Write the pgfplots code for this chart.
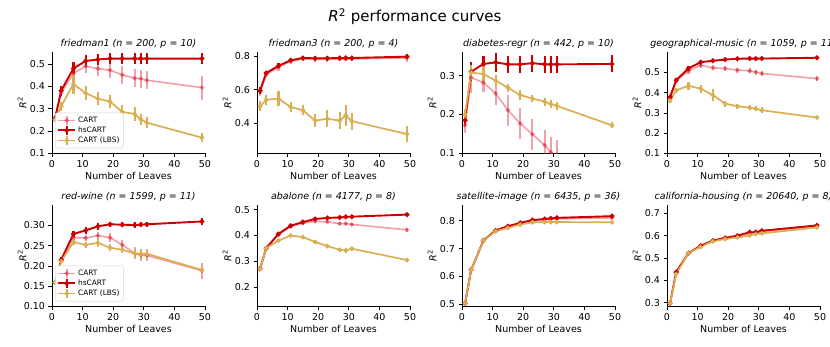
\documentclass[border=0pt]{standalone}
\usepackage{fontspec}
\setmainfont{DejaVu Sans}
\usepackage{pgfplots}
\pgfplotsset{compat=1.18}
\usepackage{pgfplotstable}

\definecolor{hsred}{RGB}{204,0,0}
\definecolor{cartred}{RGB}{226,45,60}
\definecolor{lbsgold}{RGB}{218,174,82}

\newcommand\tk{\fontsize{9.5}{11}\selectfont}
\newcommand\rsq{{\itshape R}\textsuperscript{2}}

% columns: leaves, CART, err, hsCART, err, CART (LBS), err
\pgfplotstableread{
x c ce h he l le
1 0.257 0.010 0.257 0.010 0.250 0.010
3 0.370 0.020 0.380 0.022 0.310 0.020
7 0.458 0.030 0.480 0.030 0.410 0.045
11 0.490 0.030 0.513 0.026 0.369 0.030
15 0.479 0.034 0.520 0.026 0.345 0.030
19 0.472 0.035 0.524 0.026 0.331 0.030
23 0.451 0.040 0.524 0.026 0.285 0.030
27 0.436 0.040 0.524 0.026 0.276 0.030
29 0.434 0.040 0.524 0.026 0.252 0.025
31 0.427 0.040 0.524 0.026 0.237 0.025
49 0.394 0.054 0.524 0.026 0.170 0.020
}\friedmanA
\pgfplotstableread{
x c ce h he l le
1 0.585 0.020 0.594 0.020 0.500 0.030
3 0.690 0.015 0.700 0.015 0.540 0.030
7 0.735 0.020 0.743 0.015 0.547 0.045
11 0.770 0.015 0.776 0.012 0.497 0.030
15 0.785 0.015 0.790 0.012 0.477 0.030
19 0.782 0.015 0.788 0.012 0.416 0.040
23 0.782 0.015 0.788 0.012 0.426 0.050
27 0.784 0.015 0.790 0.012 0.416 0.050
29 0.784 0.015 0.790 0.012 0.446 0.060
31 0.784 0.015 0.790 0.012 0.412 0.050
49 0.790 0.025 0.798 0.015 0.335 0.050
}\friedmanC
\pgfplotstableread{
x c ce h he l le
1 0.172 0.020 0.185 0.015 0.200 0.015
3 0.295 0.040 0.310 0.025 0.308 0.020
7 0.282 0.025 0.330 0.020 0.304 0.020
11 0.254 0.030 0.334 0.025 0.287 0.015
15 0.211 0.040 0.329 0.022 0.269 0.010
19 0.177 0.040 0.329 0.022 0.250 0.012
23 0.149 0.040 0.332 0.022 0.241 0.010
27 0.121 0.040 0.329 0.022 0.233 0.010
29 0.103 0.040 0.329 0.022 0.227 0.010
31 0.095 0.040 0.329 0.022 0.222 0.010
49 -0.050 0.050 0.330 0.022 0.172 0.008
}\diabetes
\pgfplotstableread{
x c ce h he l le
1 0.371 0.010 0.379 0.010 0.360 0.010
3 0.459 0.010 0.462 0.010 0.412 0.012
7 0.508 0.015 0.520 0.012 0.434 0.020
11 0.536 0.012 0.551 0.010 0.420 0.020
15 0.523 0.012 0.558 0.008 0.388 0.030
19 0.520 0.012 0.564 0.006 0.346 0.015
23 0.512 0.012 0.568 0.006 0.333 0.012
27 0.508 0.012 0.569 0.006 0.326 0.012
29 0.502 0.012 0.569 0.006 0.321 0.012
31 0.495 0.012 0.569 0.006 0.313 0.015
49 0.470 0.012 0.573 0.006 0.277 0.008
}\geomusic
\pgfplotstableread{
x c ce h he l le
1 0.159 0.005 0.159 0.005 0.159 0.005
3 0.212 0.006 0.215 0.006 0.211 0.006
7 0.270 0.008 0.279 0.008 0.259 0.008
11 0.269 0.008 0.288 0.008 0.252 0.008
15 0.275 0.010 0.298 0.008 0.257 0.010
19 0.270 0.012 0.303 0.006 0.245 0.008
23 0.252 0.012 0.302 0.006 0.240 0.008
27 0.231 0.015 0.301 0.008 0.231 0.012
29 0.227 0.015 0.302 0.006 0.230 0.012
31 0.226 0.015 0.303 0.006 0.230 0.012
49 0.188 0.020 0.310 0.008 0.190 0.010
}\redwine
\pgfplotstableread{
x c ce h he l le
1 0.271 0.004 0.271 0.004 0.271 0.004
3 0.351 0.004 0.351 0.004 0.351 0.004
7 0.403 0.005 0.406 0.005 0.380 0.005
11 0.435 0.005 0.438 0.005 0.400 0.006
15 0.448 0.006 0.452 0.005 0.394 0.006
19 0.455 0.006 0.464 0.005 0.375 0.008
23 0.453 0.006 0.468 0.005 0.359 0.007
27 0.446 0.006 0.470 0.005 0.345 0.008
29 0.446 0.006 0.472 0.005 0.342 0.008
31 0.443 0.006 0.473 0.005 0.349 0.008
49 0.422 0.007 0.481 0.005 0.305 0.006
}\abalone
\pgfplotstableread{
x c ce h he l le
1 0.503 0.004 0.503 0.004 0.503 0.004
3 0.624 0.004 0.624 0.004 0.624 0.004
7 0.729 0.003 0.729 0.003 0.729 0.003
11 0.763 0.003 0.765 0.003 0.762 0.003
15 0.778 0.003 0.780 0.003 0.774 0.003
19 0.790 0.003 0.792 0.003 0.786 0.003
23 0.799 0.003 0.802 0.003 0.794 0.003
27 0.803 0.004 0.806 0.003 0.795 0.003
29 0.805 0.004 0.808 0.003 0.795 0.003
31 0.806 0.004 0.810 0.003 0.795 0.003
49 0.810 0.005 0.816 0.004 0.794 0.003
}\satellite
\pgfplotstableread{
x c ce h he l le
1 0.297 0.004 0.297 0.004 0.297 0.004
3 0.435 0.004 0.437 0.004 0.428 0.004
7 0.522 0.004 0.522 0.004 0.522 0.004
11 0.553 0.004 0.555 0.004 0.550 0.004
15 0.577 0.004 0.578 0.004 0.575 0.004
19 0.589 0.004 0.590 0.004 0.585 0.004
23 0.598 0.004 0.600 0.004 0.592 0.004
27 0.612 0.005 0.615 0.004 0.601 0.004
29 0.613 0.005 0.616 0.004 0.607 0.004
31 0.619 0.005 0.622 0.004 0.610 0.004
49 0.643 0.006 0.646 0.005 0.637 0.004
}\california

\pgfplotsset{
  leafax/.style={
    scale only axis, width=153pt, height=101pt,
    xmin=0, xmax=50, xtick={0,10,...,50},
    axis lines=left, axis line style={-, line width=0.8pt},
    tick align=outside, major tick length=3.5pt,
    tick style={black, line width=0.8pt},
    tick label style={font=\tk},
    /pgf/number format/assume math mode=true,
    yticklabel style={/pgf/number format/fixed,
      /pgf/number format/precision=1, /pgf/number format/fixed zerofill},
    xlabel={Number of Leaves}, ylabel={\rsq},
    every axis x label/.style={at={(axis description cs:0.5,0)},
      yshift=-23pt, anchor=center, font=\tk},
    every axis y label/.style={at={(axis description cs:0,0.5)},
      xshift=-30pt, rotate=90, anchor=center, font=\tk},
    every axis title/.style={at={(axis description cs:0.5,1)},
      yshift=8.5pt, anchor=center, font=\tk\itshape},
    legend cell align=left,
    legend style={at={(0.02,0.05)}, anchor=south west,
      font=\fontsize{7.4}{9}\selectfont, draw=gray!35,
      rounded corners=2pt, inner sep=2pt, row sep=-1pt},
    legend image code/.code={
      \draw[#1] (0pt,0pt) -- (17pt,0pt);
      \draw[#1, line width=2pt] (8.5pt,-4.5pt) -- (8.5pt,4.5pt);
      \fill[#1] (8.5pt,0pt) circle (1.4pt);},
  },
  ebar/.style={
    /pgfplots/error bars/y dir=both,
    /pgfplots/error bars/y explicit,
    /pgfplots/error bars/error mark=none,
    /pgfplots/error bars/error bar style={line width=2.2pt, solid},
  },
  cartp/.style={color=cartred, opacity=0.45, line width=1.6pt,
    mark=*, mark size=1.4pt, ebar},
  hsp/.style={color=hsred, line width=1.9pt, mark=*, mark size=1.4pt, ebar},
  lbsp/.style={color=lbsgold, line width=1.7pt, mark=*, mark size=1.4pt, ebar},
}

\newcommand\curves[1]{%
  \addplot[cartp] table[x=x, y=c, y error=ce] {#1};
  \addplot[hsp] table[x=x, y=h, y error=he] {#1};
  \addplot[lbsp] table[x=x, y=l, y error=le] {#1};
}

\begin{document}
\begin{tikzpicture}
\path[use as bounding box] (0pt,0pt) rectangle (830pt,346pt);

\node[font=\fontsize{15}{18}\selectfont] at (415pt,329pt)
  {\rsq\ performance curves};

% top row
\begin{axis}[leafax, at={(52pt,192.7pt)}, anchor=south west,
  ymin=0.1, ymax=0.552, ytick={0.1,0.2,...,0.5},
  title={friedman1 (n = 200, p = 10)}]
  \curves{\friedmanA}
  \legend{CART, hsCART, CART (LBS)}
\end{axis}

\begin{axis}[leafax, at={(257pt,192.7pt)}, anchor=south west,
  ymin=0.22, ymax=0.824, ytick={0.4,0.6,0.8},
  title={friedman3 (n = 200, p = 4)}]
  \curves{\friedmanC}
\end{axis}

\begin{axis}[leafax, at={(462pt,192.7pt)}, anchor=south west,
  ymin=0.1, ymax=0.36, ytick={0.1,0.2,0.3},
  title={diabetes-regr (n = 442, p = 10)}]
  \curves{\diabetes}
\end{axis}

\begin{axis}[leafax, at={(667pt,192.7pt)}, anchor=south west,
  ymin=0.1, ymax=0.6, ytick={0.1,0.2,...,0.5},
  title={geographical-music (n = 1059, p = 11)}]
  \curves{\geomusic}
\end{axis}

% bottom row
\begin{axis}[leafax, at={(52pt,39.7pt)}, anchor=south west,
  ymin=0.1, ymax=0.35, ytick={0.10,0.15,...,0.30},
  yticklabel style={/pgf/number format/precision=2},
  title={red-wine (n = 1599, p = 11)}]
  \curves{\redwine}
  \legend{CART, hsCART, CART (LBS)}
\end{axis}

\begin{axis}[leafax, at={(257pt,39.7pt)}, anchor=south west,
  ymin=0.126, ymax=0.517, ytick={0.2,0.3,0.4,0.5},
  title={abalone (n = 4177, p = 8)}]
  \curves{\abalone}
\end{axis}

\begin{axis}[leafax, at={(462pt,39.7pt)}, anchor=south west,
  ymin=0.493, ymax=0.855, ytick={0.5,0.6,0.7,0.8},
  title={satellite-image (n = 6435, p = 36)}]
  \curves{\satellite}
\end{axis}

\begin{axis}[leafax, at={(667pt,39.7pt)}, anchor=south west,
  ymin=0.284, ymax=0.736, ytick={0.3,0.4,...,0.7},
  title={california-housing (n = 20640, p = 8)}]
  \curves{\california}
\end{axis}
\end{tikzpicture}
\end{document}
